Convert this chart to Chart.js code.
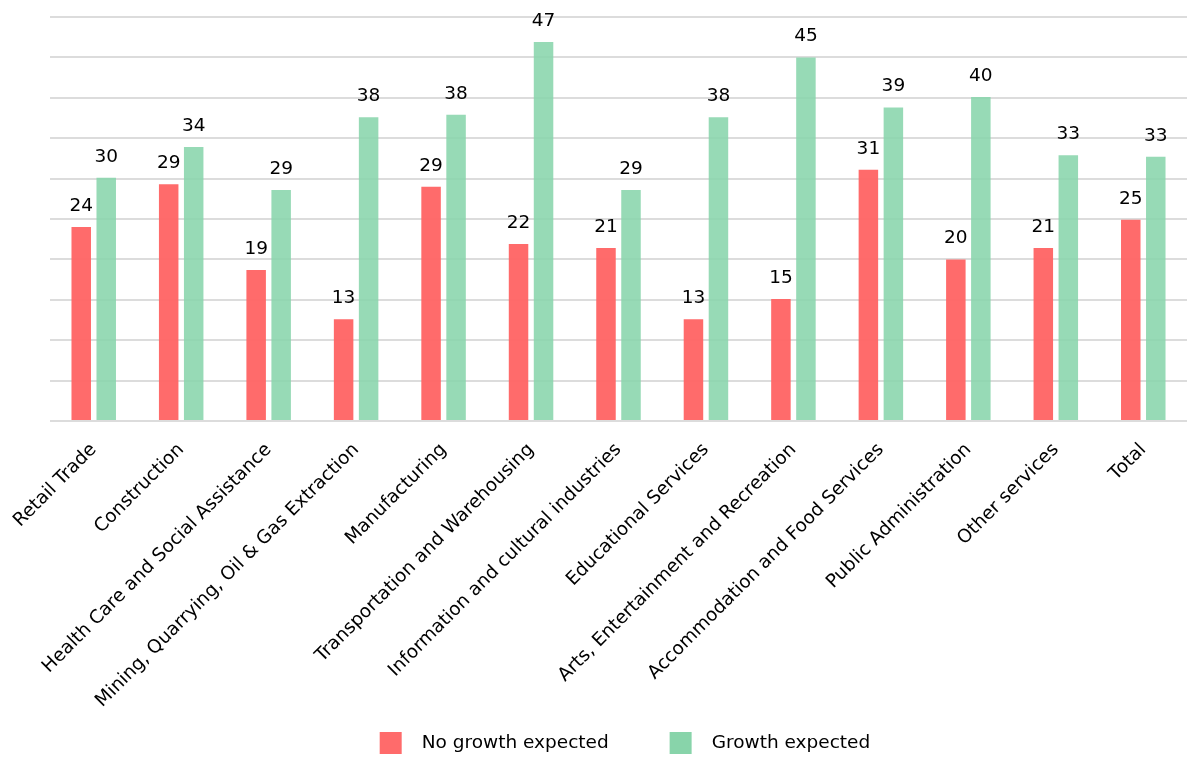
<!DOCTYPE html>
<html>
<head>
<meta charset="utf-8">
<script src="https://cdn.jsdelivr.net/npm/chart.js@4.4.1/dist/chart.umd.min.js"></script>
<style>
  html, body { margin: 0; padding: 0; background: #ffffff; }
  #wrap { width: 1187px; height: 760px; position: relative; }
</style>
</head>
<body>
<div id="wrap"><canvas id="c"></canvas></div>
<script>
const categories = [
  "Retail Trade",
  "Construction",
  "Health Care and Social Assistance",
  "Mining, Quarrying, Oil & Gas Extraction",
  "Manufacturing",
  "Transportation and Warehousing",
  "Information and cultural industries",
  "Educational Services",
  "Arts, Entertainment and Recreation",
  "Accommodation and Food Services",
  "Public Administration",
  "Other services",
  "Total"
];
const noGrowth = [24.0, 29.3, 18.7, 12.6, 29.0, 21.9, 21.4, 12.6, 15.1, 31.1, 20.0, 21.4, 24.9];
const growth   = [30.1, 33.9, 28.6, 37.6, 37.9, 46.9, 28.6, 37.6, 45.0, 38.8, 40.1, 32.9, 32.7];
const seriesNames = ["No growth expected", "Growth expected"];
const yTicks = [0, 5, 10, 15, 20, 25, 30, 35, 40, 45, 50];

const FONT = "'DejaVu Sans', Verdana, sans-serif";
const FSIZE = 18.5;
const TEXT = '#000000';
const RED = 'rgba(255,99,99,0.95)';
const GREEN = 'rgba(136,212,171,0.87)';
const LEG_RED = 'rgb(255,107,107)';
const LEG_GREEN = 'rgb(136,212,170)';

// legend icon: 22px square placed with a transparent lead-in
const SHIFT = 53;            // distance from item start to square
const BOXW = 32.75 + SHIFT;  // layout width reserved for the icon
function makeIcon(color) {
  const c = document.createElement('canvas');
  c.width = 66; c.height = 22;
  const g = c.getContext('2d');
  g.fillStyle = color;
  const left = Math.round(33 + (SHIFT - BOXW / 2));
  g.fillRect(left, 0, 22, 22);
  return c;
}
const icons = [makeIcon(LEG_RED), makeIcon(LEG_GREEN)];

const valueLabels = {
  id: 'valueLabels',
  afterDatasetsDraw(chart) {
    const ctx = chart.ctx;
    ctx.save();
    ctx.font = FSIZE + 'px ' + FONT;
    ctx.fillStyle = TEXT;
    ctx.textAlign = 'center';
    ctx.textBaseline = 'alphabetic';
    chart.data.datasets.forEach((ds, di) => {
      const meta = chart.getDatasetMeta(di);
      meta.data.forEach((bar, i) => {
        ctx.fillText(String(Math.round(ds.data[i])), bar.x, bar.y - 16);
      });
    });
    ctx.restore();
  }
};

new Chart(document.getElementById('c'), {
  type: 'bar',
  data: {
    labels: categories,
    datasets: [
      { label: seriesNames[0], data: noGrowth, backgroundColor: RED, borderWidth: 0,
        categoryPercentage: 0.5717, barPercentage: 0.78 },
      { label: seriesNames[1], data: growth, backgroundColor: GREEN, borderWidth: 0,
        categoryPercentage: 0.5717, barPercentage: 0.78 }
    ]
  },
  options: {
    responsive: true,
    maintainAspectRatio: false,
    animation: false,
    layout: { padding: { top: 17, left: 10, right: 0, bottom: -2 } },
    plugins: {
      tooltip: { enabled: false },
      legend: {
        position: 'bottom',
        labels: {
          usePointStyle: true,
          pointStyleWidth: BOXW,
          padding: 8,
          color: TEXT,
          font: { family: FONT, size: FSIZE },
          generateLabels(chart) {
            return chart.data.datasets.map((ds, i) => ({
              text: ds.label,
              pointStyle: icons[i],
              fillStyle: ds.backgroundColor,
              strokeStyle: 'transparent',
              lineWidth: 0,
              fontColor: TEXT,
              hidden: !chart.isDatasetVisible(i),
              datasetIndex: i
            }));
          }
        }
      }
    },
    scales: {
      x: {
        grid: { display: false },
        border: { display: false },
        ticks: {
          autoSkip: false,
          maxRotation: 45,
          minRotation: 45,
          color: TEXT,
          padding: 10,
          font: { family: FONT, size: FSIZE }
        },
        afterFit(scale) { scale.height = 304.5; }
      },
      y: {
        min: 0,
        max: 50,
        afterBuildTicks(scale) { scale.ticks = yTicks.map(v => ({ value: v })); },
        ticks: { display: false },
        grid: { color: '#dcdcdc', lineWidth: 2, drawTicks: false },
        border: { display: false },
        afterFit(scale) { scale.width = 40; }
      }
    }
  },
  plugins: [valueLabels]
});
</script>
</body>
</html>
